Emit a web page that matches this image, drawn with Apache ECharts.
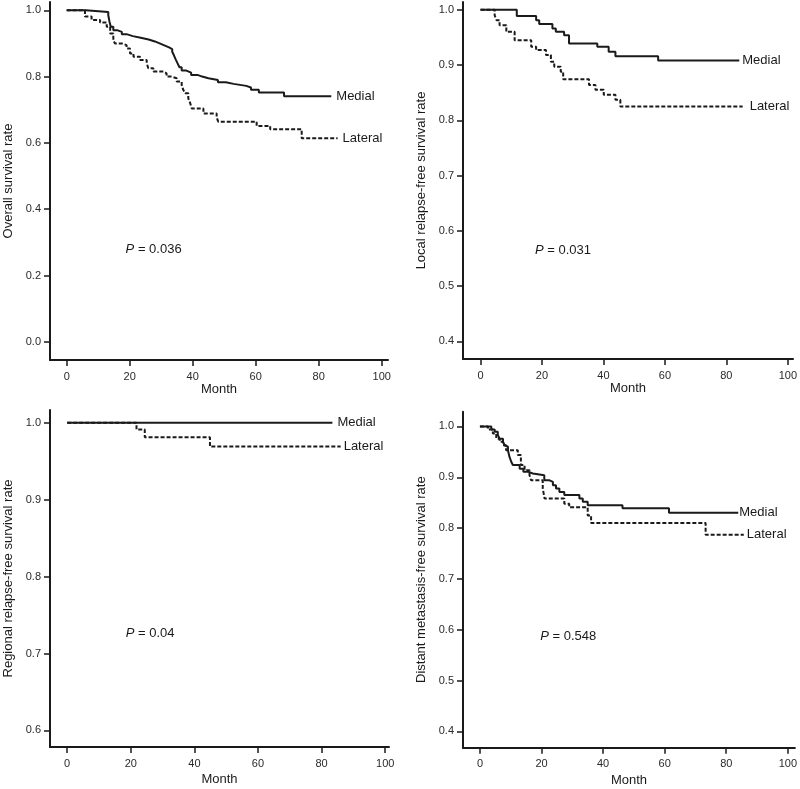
<!DOCTYPE html>
<html><head><meta charset="utf-8">
<script src="https://cdn.jsdelivr.net/npm/echarts@6/dist/echarts.min.js"></script>
<style>html,body{margin:0;padding:0;background:#fff}#c{width:800px;height:789px}</style>
</head><body><div id="c"></div>
<script>
// ---- data ----
const monthTicks = [0, 20, 40, 60, 80, 100];
const osTicks = [0, 0.2, 0.4, 0.6, 0.8, 1.0];
const lrTicks = [0.4, 0.5, 0.6, 0.7, 0.8, 0.9, 1.0];
const rrTicks = [0.6, 0.7, 0.8, 0.9, 1.0];
const dmTicks = [0.4, 0.5, 0.6, 0.7, 0.8, 0.9, 1.0];

const panelTitles = ['Overall survival rate', 'Local relapse-free survival rate',
  'Regional relapse-free survival rate', 'Distant metastasis-free survival rate'];
const groupNames = ['Medial', 'Lateral'];
const pValues = ['0.036', '0.031', '0.04', '0.548'];

const osMedial = [[0,1],[6,0.995],[13.2,0.985],[13.6,0.965],[14,0.95],[14.8,0.94],[16,0.935],[17.5,0.928],[19,0.922],[21,0.917],[23.5,0.912],[26,0.906],[28,0.9],[29.5,0.894],[31,0.888],[32.5,0.883],[33.5,0.875],[34,0.865],[34.6,0.852],[35.2,0.84],[35.8,0.828],[36.5,0.818],[38,0.812],[39.5,0.805],[41.5,0.8],[43,0.795],[45,0.79],[48,0.783],[50.5,0.778],[53,0.772],[57,0.767],[58.5,0.76],[61,0.752],[69,0.741],[84,0.741]];
const osLateral = [[0,1],[5.8,0.981],[7.9,0.971],[10.6,0.963],[12.7,0.95],[13.8,0.93],[14.8,0.91],[15.3,0.9],[17.5,0.895],[19,0.885],[20.1,0.87],[21.2,0.86],[23.3,0.85],[25.4,0.84],[25.9,0.825],[27.5,0.815],[30.7,0.81],[31.7,0.8],[33.3,0.795],[34.9,0.785],[36.5,0.775],[37,0.76],[37.6,0.75],[38.6,0.734],[39.2,0.72],[39.7,0.704],[43.4,0.689],[47.6,0.677],[48.1,0.664],[60.3,0.651],[64.6,0.641],[74.6,0.614],[86,0.614]];

const lrMedial = [[0,1],[11.8,0.9885],[18.1,0.981],[19.1,0.974],[23.4,0.966],[24.5,0.96],[27.2,0.954],[28.8,0.939],[38,0.933],[41.7,0.924],[43.9,0.916],[57.8,0.908],[84.2,0.908]];
const lrLateral = [[0,1],[4.6,0.99],[5.2,0.981],[6.2,0.972],[8.4,0.96],[11.1,0.945],[16.5,0.933],[18.1,0.927],[21.3,0.918],[22.9,0.906],[24,0.897],[26.1,0.888],[26.9,0.874],[35.3,0.864],[37.4,0.855],[40.1,0.846],[43.9,0.837],[45.5,0.825],[85.3,0.825]];

const rrMedial = [[0,1],[83.4,1]];
const rrLateral = [[0,1],[21.8,0.991],[24.4,0.981],[44.9,0.969],[86,0.969]];

const dmMedial = [[0,1],[3.7,0.994],[4.8,0.9895],[5.8,0.983],[6.4,0.976],[7.5,0.97],[8,0.963],[8.5,0.96],[9.1,0.953],[9.6,0.94],[10.2,0.93],[10.7,0.924],[12.9,0.917],[14.1,0.911],[15.6,0.9075],[17.2,0.904],[20.9,0.894],[22.6,0.891],[23.7,0.8845],[24.7,0.878],[25.8,0.871],[27.4,0.865],[32.3,0.858],[33.4,0.852],[35,0.845],[46.3,0.839],[61.4,0.83],[83.9,0.83]];
const dmLateral = [[0,1],[2.6,0.994],[4.2,0.986],[5.3,0.976],[6.4,0.97],[7.5,0.963],[8.5,0.953],[12.3,0.944],[13.3,0.924],[14.5,0.914],[16.1,0.904],[16.6,0.894],[20.4,0.878],[21,0.858],[27.4,0.848],[29,0.841],[35,0.825],[36.1,0.81],[73.3,0.787],[85.7,0.787]];

// ---- layout ----
const FONT = '"Liberation Sans", Arial, Helvetica, sans-serif';
const INK = '#1a1a1a';
const panels = [
  {grid:{left:50, top:2, width:338, height:358}, x:[-5.3,102], y:[-0.055,1.025], yt:osTicks, med:osMedial, lat:osLateral, pPos:[18.7,0.279], dist:[5,5], nameGap:23},
  {grid:{left:463, top:2, width:333, height:357}, x:[-5.7,101.7], y:[0.368,1.014], yt:lrTicks, med:lrMedial, lat:lrLateral, pPos:[17.7,0.564], dist:[3,7], nameGap:23},
  {grid:{left:50, top:410, width:339, height:337}, x:[-5.4,101.2], y:[0.5785,1.0165], yt:rrTicks, med:rrMedial, lat:rrLateral, pPos:[18.4,0.7256], dist:[5,3], nameGap:26},
  {grid:{left:463, top:411.7, width:333, height:336}, x:[-5.5,102.3], y:[0.368,1.029], yt:dmTicks, med:dmMedial, lat:dmLateral, pPos:[19.6,0.5876], dist:[1,3], nameGap:26}
];

const grids = [], xAxes = [], yAxes = [], series = [];
panels.forEach((p, i) => {
  grids.push(p.grid);
  xAxes.push({
    type:'value', gridIndex:i, min:p.x[0], max:p.x[1],
    name:'Month', nameLocation:'middle', nameGap:p.nameGap,
    nameTextStyle:{fontFamily:FONT, fontSize:13, color:INK},
    axisLine:{onZero:false, lineStyle:{color:INK, width:2}},
    axisTick:{show:true, length:6, lineStyle:{color:INK, width:1.5}, customValues:monthTicks},
    axisLabel:{fontFamily:FONT, fontSize:11, color:'#2a2a2a', margin:11, customValues:monthTicks, formatter:v=>String(v)},
    splitLine:{show:false}
  });
  yAxes.push({
    type:'value', gridIndex:i, min:p.y[0], max:p.y[1],
    name:panelTitles[i], nameLocation:'middle', nameGap:35,
    nameTextStyle:{fontFamily:FONT, fontSize:13, color:INK},
    axisLine:{onZero:false, lineStyle:{color:INK, width:2}},
    axisTick:{show:true, length:6, lineStyle:{color:INK, width:1.5}, customValues:p.yt},
    axisLabel:{fontFamily:FONT, fontSize:11, color:'#2a2a2a', margin:9, customValues:p.yt, formatter:v=>v.toFixed(1)},
    splitLine:{show:false}
  });
  [p.med, p.lat].forEach((d, k) => {
    series.push({
      type:'line', name:groupNames[k], xAxisIndex:i, yAxisIndex:i, data:d,
      step:'end', symbol:'none', silent:true,
      lineStyle:{color:INK, width:2, type: k === 0 ? 'solid' : [4,2]},
      endLabel:{show:true, formatter:'{a}', distance:p.dist[k], fontFamily:FONT, fontSize:13, color:INK}
    });
  });
  series.push({
    type:'scatter', xAxisIndex:i, yAxisIndex:i, symbolSize:0, silent:true,
    itemStyle:{opacity:1, color:INK},
    data:[p.pPos],
    label:{show:true, position:'right', distance:0, color:INK, opacity:1,
      formatter:'{i|P}{n| = ' + pValues[i] + '}',
      rich:{i:{fontStyle:'italic', fontFamily:FONT, fontSize:13, color:INK},
            n:{fontFamily:FONT, fontSize:13, color:INK}}}
  });
});

const chart = echarts.init(document.getElementById('c'), null, {renderer:'canvas'});
chart.setOption({animation:false, backgroundColor:'#fff', grid:grids, xAxis:xAxes, yAxis:yAxes, series:series});
</script></body></html>
